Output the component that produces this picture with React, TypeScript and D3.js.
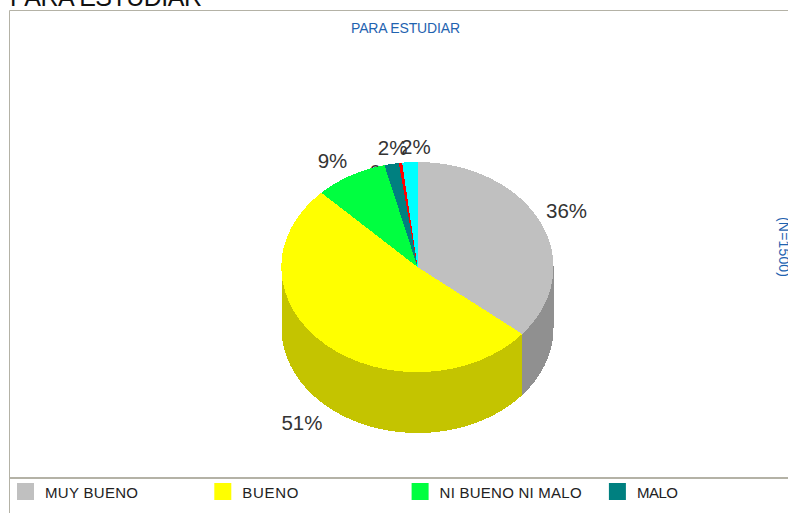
import React from "react";
import * as d3 from "d3";

const categories = ["MUY BUENO", "BUENO", "NI BUENO NI MALO", "MALO", "MUY MALO", "NS/NC"];
const seriesValues = [36, 51.49, 8.6, 1.7, 0.4, 1.8];
const topColors = ["#C0C0C0", "#FFFF00", "#00FF40", "#008080", "#FF0000", "#00FFFF"];
const sideColors = ["#909090", "#C4C400", "#00BF30", "#006060", "#BF0000", "#00BFBF"];
const legendItems = ["MUY BUENO", "BUENO", "NI BUENO NI MALO", "MALO"];
const legendTextWidths = [93, 56, 142, 41];

const W = 788, H = 513;
const cx = 417.5, cy = 267, rx = 136, ry = 105, depth = 61;
const FONT = "'Liberation Sans', Arial, sans-serif";
const BLUE = "#1F63B0";
const BORDER = "#B4B2A6";

// label centre offsets from the rim point of each slice
const labelOffset: [number, number][] = [
  [26, -4], [-24, 85], [-18, -8], [1, -9], [-16, 16], [6, -8],
];

const pieGen = d3.pie<number>().sort(null).startAngle(0).endAngle(2 * Math.PI);
const arcs = pieGen(seriesValues);
const arcGen = d3.arc<d3.PieArcDatum<number>>().innerRadius(0).outerRadius(1);
const px = (a: number) => cx + rx * Math.sin(a);
const py = (a: number) => cy - ry * Math.cos(a);
const rim = d3.line<[number, number]>();

function sidePath(a0: number, a1: number) {
  const lo = Math.max(a0, Math.PI / 2);
  const hi = Math.min(a1, (3 * Math.PI) / 2);
  if (hi <= lo) return null;
  const steps = d3.range(0, 61).map((i) => lo + ((hi - lo) * i) / 60);
  const pts: [number, number][] = [
    ...steps.map((a) => [px(a), py(a) - 1.5] as [number, number]),
    ...steps.slice().reverse().map((a) => [px(a), py(a) + depth] as [number, number]),
  ];
  return rim(pts) + "Z";
}

export default function App() {
  return (
    <svg
      width={W}
      height={H}
      viewBox={`0 0 ${W} ${H}`}
      style={{ position: "absolute", left: 0, top: 0, display: "block", background: "#fff" }}
      fontFamily={FONT}
    >
      <text x={10} y={6} fontSize={25} fill="#111" textLength={192}>PARA ESTUDIAR</text>
      <line x1={9.5} y1={10.5} x2={W} y2={10.5} stroke={BORDER} />
      <line x1={9.5} y1={10.5} x2={9.5} y2={H} stroke={BORDER} />
      <line x1={10} y1={478} x2={W} y2={478} stroke={BORDER} strokeWidth={2} />

      <text x={351} y={33} fontSize={14} fill={BLUE} textLength={109}>PARA ESTUDIAR</text>
      <text transform="translate(779,217) rotate(90)" fontSize={14} fill={BLUE} textLength={60}>(N=1500)</text>

      {arcs.map((d, i) => {
        const m = (d.startAngle + d.endAngle) / 2;
        const [ox, oy] = labelOffset[i];
        return (
          <text key={categories[i]} x={px(m) + ox} y={py(m) + oy} fontSize={20.5} fill="#333" textAnchor="middle">
            {Math.round(seriesValues[i])}%
          </text>
        );
      })}

      <g shapeRendering="crispEdges">
        {arcs.map((d, i) => {
          const p = sidePath(d.startAngle, d.endAngle);
          return p ? <path key={i} d={p} fill={sideColors[i]} /> : null;
        })}
        <g transform={`translate(${cx},${cy}) scale(${rx},${ry})`}>
          {arcs.map((d, i) => (
            <path key={i} d={arcGen(d) as string} fill={topColors[i]} />
          ))}
        </g>
      </g>

      {legendItems.map((name, i) => {
        const x = 17 + i * 197.3;
        return (
          <g key={name}>
            <rect x={x} y={483} width={17} height={17} fill={topColors[i]} />
            <text x={x + 28} y={498} fontSize={15} fill="#222" textLength={legendTextWidths[i]}>
              {name}
            </text>
          </g>
        );
      })}
    </svg>
  );
}
